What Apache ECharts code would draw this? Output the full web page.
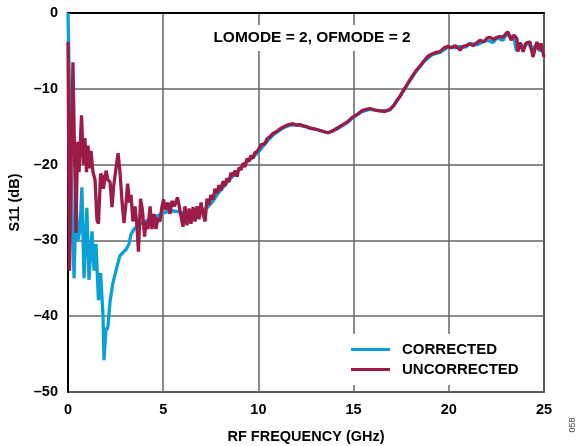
<!DOCTYPE html>
<html>
<head>
<meta charset="utf-8">
<script src="https://cdn.jsdelivr.net/npm/echarts@6/dist/echarts.min.js"></script>
<style>html,body{margin:0;padding:0;background:#fff;}#chart{width:585px;height:446px;}</style>
</head>
<body>
<div id="chart"></div>
<script>
var xTicks = [0, 5, 10, 15, 20, 25];
var yTicks = [0, -10, -20, -30, -40, -50];
var seriesNames = ['CORRECTED', 'UNCORRECTED'];

var uncFreq = [0.00,0.08,0.16,0.26,0.34,0.42,0.50,0.58,0.71,0.81,0.89,0.97,1.05,1.13,1.21,1.31,1.42,1.52,1.60,1.71,1.79,1.86,2.00,2.10,2.21,2.31,2.39,2.52,2.63,2.73,2.84,2.94,3.05,3.13,3.23,3.31,3.41,3.52,3.62,3.70,3.81,3.91,4.02,4.10,4.20,4.31,4.41,4.52,4.62,4.73,4.83,4.94,5.02,5.12,5.25,5.36,5.46,5.59,5.75,5.88,6.04,6.14,6.25,6.36,6.46,6.57,6.67,6.78,6.88,6.99,7.09,7.20,7.30,7.41,7.51,7.62,7.72,7.83,7.93,8.04,8.14,8.25,8.35,8.46,8.56,8.67,8.77,8.88,8.98,9.09,9.19,9.30,9.40,9.51,9.61,9.72,9.82,9.93,10.03,10.14,10.24,10.35,10.45,10.61,10.77,10.98,11.13,11.34,11.50,11.66,11.82,12.03,12.18,12.34,12.55,12.71,12.97,13.24,13.50,13.66,13.87,14.13,14.39,14.65,14.97,15.23,15.44,15.65,15.86,16.12,16.39,16.65,16.91,17.12,17.28,17.44,17.59,17.75,17.91,18.12,18.28,18.49,18.70,18.91,19.12,19.33,19.54,19.75,19.96,20.12,20.33,20.48,20.59,20.75,20.90,21.11,21.27,21.48,21.64,21.74,21.85,22.01,22.17,22.32,22.53,22.69,22.85,23.00,23.11,23.27,23.42,23.58,23.63,23.74,23.90,24.05,24.26,24.42,24.63,24.74,24.84,25.00];
var uncS11 = [-3.8,-34,-20,-6.5,-18,-29,-17,-21,-13.5,-20,-16.5,-21,-17.5,-20.5,-18.2,-21,-22,-27.3,-27.8,-21.2,-21.5,-23.2,-20.8,-22,-22.3,-25.6,-23,-20.5,-18.5,-21,-25,-27.7,-25,-22.5,-25,-24,-27.5,-25.5,-28,-31.5,-24.5,-26,-29.5,-27.5,-28.5,-25.5,-28.5,-26.5,-28.5,-27,-27.5,-25.5,-24.6,-26,-25,-26.5,-24.8,-25.5,-24.3,-26,-28.2,-25.5,-28,-25.8,-27.8,-25.6,-27.5,-25.5,-27.2,-25,-26.5,-27.5,-24.5,-25.3,-24,-24.6,-23.2,-23.8,-22.7,-23.4,-22.2,-22.8,-21.8,-22.3,-21.1,-21.5,-20.8,-21.6,-20.4,-20.7,-19.8,-20.3,-19.2,-19.6,-18.8,-19.2,-18.4,-18.3,-18.2,-17.4,-17.2,-17.2,-16.6,-16.3,-15.9,-15.6,-15.3,-15.0,-14.8,-14.7,-14.6,-14.8,-14.7,-14.9,-15.0,-15.2,-15.3,-15.5,-15.7,-15.8,-15.6,-15.2,-14.8,-14.4,-13.7,-13.3,-12.9,-12.7,-12.6,-12.8,-12.9,-13.0,-12.7,-12.2,-11.5,-11.0,-10.3,-9.7,-9.0,-8.2,-7.6,-7.0,-6.3,-5.7,-5.4,-5.2,-5.1,-4.6,-4.4,-4.6,-4.3,-4.6,-4.9,-4.4,-4.3,-4.1,-4.3,-3.9,-3.6,-3.4,-3.8,-3.3,-3.2,-3.5,-3.2,-3.1,-3.2,-2.7,-2.5,-3.6,-2.9,-3.4,-5.1,-3.9,-5.1,-4.0,-3.8,-5.8,-3.8,-4.9,-4.0,-5.8];

var corFreq = [0.00,0.17,0.26,0.32,0.42,0.52,0.63,0.73,0.84,0.99,1.10,1.26,1.37,1.47,1.60,1.71,1.84,1.89,2.00,2.05,2.10,2.21,2.36,2.57,2.73,2.89,3.05,3.20,3.31,3.47,3.68,3.99,4.20,4.46,4.73,4.99,5.25,5.51,5.78,6.04,6.30,6.57,6.83,7.09,7.35,7.62,7.88,8.14,8.40,8.67,8.93,9.19,9.45,9.72,9.98,10.24,10.50,10.77,10.98,11.34,11.66,12.03,12.34,12.71,13.24,13.66,14.13,14.65,14.97,15.44,15.86,16.39,16.91,17.28,17.59,17.91,18.28,18.70,19.12,19.54,19.96,20.12,20.33,20.59,20.90,21.11,21.48,21.74,22.01,22.32,22.53,22.85,23.00,23.20,23.42,23.55,23.74,23.95,24.15,24.36,24.58,24.79,25.00];
var corS11 = [0,-22,-30,-35,-24.7,-30,-28.6,-23,-35,-25.7,-35.2,-28.8,-34,-30.5,-37.9,-34.3,-40,-45.8,-41.5,-41.8,-41.3,-38,-35.6,-33.5,-32,-31.6,-31.2,-30.5,-29.2,-28.5,-28,-27.6,-27.3,-27,-26.7,-26.4,-26.2,-26.1,-26.2,-26.4,-26.5,-26.6,-26.3,-26.0,-25.6,-24.8,-23.8,-23.0,-22.2,-21.5,-20.8,-20.1,-19.5,-19.0,-18.4,-17.6,-16.8,-16.1,-15.7,-15.1,-14.8,-14.8,-14.9,-15.2,-15.5,-15.8,-15.3,-14.5,-13.8,-13.0,-12.7,-12.9,-12.8,-11.6,-10.4,-9.1,-7.7,-6.4,-5.5,-5.2,-4.5,-4.5,-4.6,-4.4,-4.5,-4.0,-4.2,-3.9,-3.6,-3.9,-3.3,-3.6,-2.9,-3.0,-3.3,-5.0,-4.0,-4.6,-3.8,-4.9,-4.2,-5.0,-4.6];

function zip(a, b) { return a.map(function (v, i) { return [v, b[i]]; }); }

var FONT = '"Liberation Sans", Arial, Helvetica, sans-serif';
var chart = echarts.init(document.getElementById('chart'), null, {renderer: 'canvas'});
chart.setOption({
  animation: false,
  backgroundColor: '#fff',
  grid: {left: 68, right: 41, top: 13, bottom: 54, containLabel: false, outerBoundsMode: 'none',
    show: true, borderColor: '#000', borderWidth: 1.5, backgroundColor: 'transparent'},
  xAxis: {
    type: 'value', min: xTicks[0], max: xTicks[xTicks.length - 1], interval: 5,
    name: 'RF FREQUENCY (GHz)', nameLocation: 'middle', nameGap: 37,
    nameTextStyle: {fontFamily: FONT, fontWeight: 'bold', fontSize: 14.5, color: '#000'},
    axisLine: {show: true, lineStyle: {color: '#000', width: 2}},
    axisTick: {show: false},
    axisLabel: {fontFamily: FONT, fontWeight: 'bold', fontSize: 14.5, color: '#000', margin: 10},
    splitLine: {show: true, lineStyle: {color: '#666', width: 1.5}}
  },
  yAxis: {
    type: 'value', min: yTicks[yTicks.length - 1], max: yTicks[0], interval: 10,
    name: 'S11 (dB)', nameLocation: 'middle', nameGap: 42, nameRotate: 90,
    nameTextStyle: {fontFamily: FONT, fontWeight: 'bold', fontSize: 14.5, color: '#000'},
    axisLine: {show: true, lineStyle: {color: '#000', width: 2}},
    axisTick: {show: false},
    axisLabel: {fontFamily: FONT, fontWeight: 'bold', fontSize: 14.5, color: '#000', margin: 10,
      formatter: function (v) { return v < 0 ? '\u2013' + Math.abs(v) : String(v); }},
    splitLine: {show: true, lineStyle: {color: '#666', width: 1.5}}
  },
  legend: {
    data: seriesNames, orient: 'vertical', left: 341, top: 334,
    backgroundColor: '#fff', padding: [8, 10], itemGap: 5,
    itemWidth: 39, itemHeight: 3, icon: 'rect',
    textStyle: {fontFamily: FONT, fontWeight: 'bold', fontSize: 15, color: '#000', padding: [0, 0, 0, 7]}
  },
  graphic: [
    {type: 'text', z: 100, style: {x: 312, y: 38, text: 'LOMODE = 2, OFMODE = 2', textAlign: 'center', textVerticalAlign: 'middle',
      font: 'bold 15.5px ' + FONT, fill: '#000', backgroundColor: '#fff', padding: [5, 6]}},
    {type: 'text', z: 100, x: 573, y: 425, rotation: Math.PI / 2, style: {x: 0, y: 0, text: '058', textAlign: 'center', textVerticalAlign: 'middle',
      font: '9px ' + FONT, fill: '#444'}}
  ],
  series: [
    {name: seriesNames[0], type: 'line', data: zip(corFreq, corS11), showSymbol: false, symbol: 'none',
      lineStyle: {color: '#0A9FD6', width: 3.3}, itemStyle: {color: '#0A9FD6'}, z: 2},
    {name: seriesNames[1], type: 'line', data: zip(uncFreq, uncS11), showSymbol: false, symbol: 'none',
      lineStyle: {color: '#9C1B47', width: 3.3}, itemStyle: {color: '#9C1B47'}, z: 3}
  ]
});
</script>
</body>
</html>
